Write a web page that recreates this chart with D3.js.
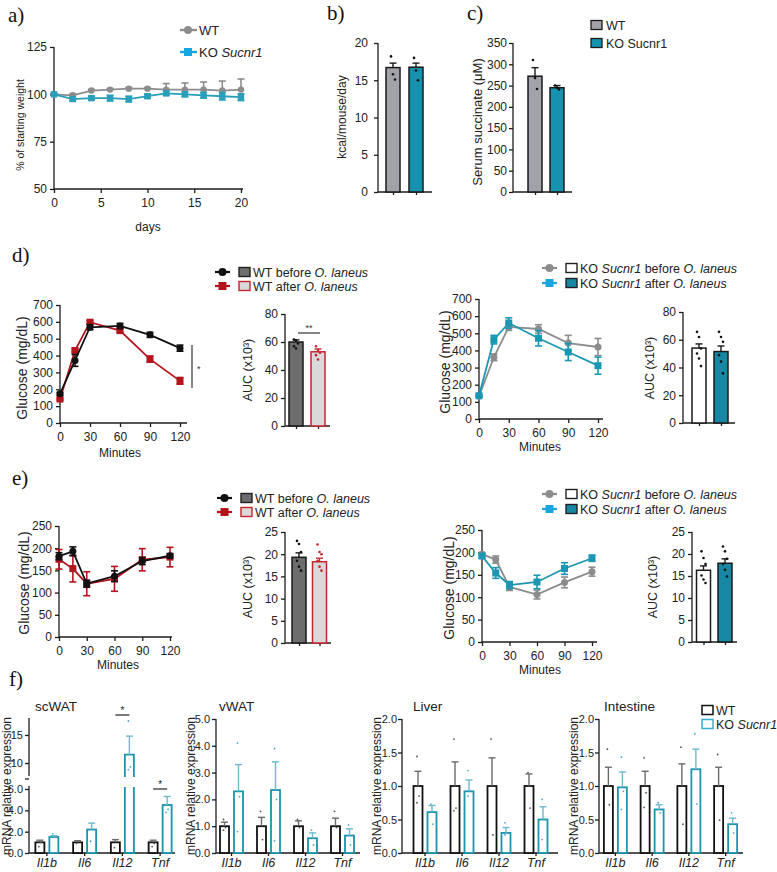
<!DOCTYPE html>
<html><head><meta charset="utf-8">
<script src="https://cdn.jsdelivr.net/npm/d3@7"></script>
<style>
body{margin:0;background:#fff}
svg text{font-family:"Liberation Sans",Arial,Helvetica,sans-serif;white-space:pre}
</style></head><body>
<svg id="c" width="777" height="872"></svg>
<script>
// ---------------- DATA ----------------
// panel a
const daysA = [0,2,4,6,8,10,12,14,16,18,20];
const wtWeight = [100,99.5,102,102.5,103,103,102.5,102.5,102.5,102,102.5];
const wtWeightErr = [0.4,0.6,0.6,0.6,0.6,0.6,3.2,3.5,4,5,5.6];
const koWeight = [100,97.5,98,98,97.5,99,100.5,100,99.5,99,98.5];
const koWeightErr = [0.5,1,1,1.5,1.5,1,1,1.2,1.5,2,1.8];
const legendA = ["WT","KO "];
// panel b
const groupsBC = ["WT","KO Sucnr1"];
const kcalMean = [16.7,16.75];
const kcalErr = [0.6,0.55];
const kcalDots = [[18.2,15.8,15.1],[18.0,16.3,15.0]];
// panel c
const succMean = [272,245];
const succErr = [20,5];
const succDots = [[310,268,242],[250,245,241]];
// panels d / e (time course)
const minutes = [0,15,30,60,90,120];
const gttWtBefore = [173,371,568,576,523,444];
const gttWtBeforeErr = [8,35,15,15,15,18];
const gttWtAfter = [142,430,598,548,379,250];
const gttWtAfterErr = [6,8,8,10,18,20];
const gttKoBefore = [132,360,537,525,443,420];
const gttKoBeforeErr = [6,20,20,25,45,50];
const gttKoAfter = [136,463,560,471,391,311];
const gttKoAfterErr = [6,25,30,45,50,50];
const itWtBefore = [182,193,120,137,171,183];
const itWtBeforeErr = [8,10,8,12,8,5];
const itWtAfter = [175,154,120,131,174,180];
const itWtAfterErr = [22,30,27,28,25,22];
const itKoBefore = [196,184,123,106,133,157];
const itKoBeforeErr = [4,8,8,10,12,10];
const itKoAfter = [192,154,127,134,164,187];
const itKoAfterErr = [5,12,8,15,13,7];
const aucGroups = ["before","after"];
const aucGttWt = [60,53], aucGttWtErr = [1.5,2];
const aucGttWtDots = [[61.8,61,59,57,55.4],[57,54.2,52.3,50.6,47.5]];
const aucGttKo = [54,51.5], aucGttKoErr = [3,4];
const aucGttKoDots = [[65.7,62,53.7,50.1,46.5,41],[65.7,62,58.5,48.9,44.2,35.8]];
const aucItWt = [19.3,18.3], aucItWtErr = [1,0.8];
const aucItWtDots = [[23,22.3,20.5,18.5,17.2,16.3],[22.2,20.5,20,18.5,17.2,16.3]];
const aucItKo = [16.3,17.9], aucItKoErr = [1,1];
const aucItKoDots = [[20.6,19.1,17.7,15.1,14.2,13.4],[21.7,20.6,18.9,17.7,16.4,14.9]];
// panel f
const genes = ["Il1b","Il6","Il12","Tnf"];
const scWT = [1,1,1,1], scWTErr = [0.2,0.15,0.25,0.2];
const scKO = [1.5,2.2,11.5,4.5], scKOErr = [0.12,0.6,3.3,0.8];
const scWTDots = [[0.6,1.0],[0.9],[0.5],[0.6,0.9]];
const scKODots = [[1.8,1.5],[1.1],[17.5,9.3,8.8],[3.8,4.1]];
const vWT = [1,1,1,1], vWTErr = [0.15,0.33,0.2,0.3];
const vKO = [2.3,2.35,0.55,0.65], vKOErr = [1.0,1.05,0.2,0.25];
const vWTDots = [[1.25,0.95,0.85],[1.55,0.5],[1.25,0.95],[1.55,0.95]];
const vKODots = [[4.1,2.1,0.8],[3.9,2.0,0.45],[0.85,0.3],[1.05,0.3]];
const lWT = [1,1,1,1], lWTErr = [0.22,0.36,0.42,0.18];
const lKO = [0.61,0.92,0.3,0.5], lKOErr = [0.1,0.17,0.08,0.19];
const lWTDots = [[1.44,0.85,0.75],[1.7,0.67,0.63],[1.7,0.27],[1.2,0.67]];
const lKODots = [[0.73,0.43],[1.23,0.93,0.85],[0.45,0.3,0.27],[0.8,0.5,0.2]];
const iWT = [1,1,1,1], iWTErr = [0.28,0.22,0.33,0.28];
const iKO = [0.98,0.65,1.25,0.43], iKOErr = [0.23,0.07,0.3,0.09];
const iWTDots = [[1.55,0.72],[1.42,0.9,0.68],[1.58,0.43],[1.47,0.49]];
const iKODots = [[1.43,0.92,0.65],[0.75,0.6],[1.78,0.73],[0.6,0.3]];

// ---------------- HELPERS ----------------
const svg = d3.select('#c');
const FONT = '"Liberation Sans",Arial,Helvetica,sans-serif';
const SERIF = '"Liberation Serif","Times New Roman",serif';
const AX = '#1c1c1c';
const TS = 12;

function styleAxis(gg, fs){
  gg.attr('font-family',FONT).attr('font-size',fs||TS);
  gg.selectAll('path,line').attr('stroke',AX).attr('stroke-width',1.3);
  gg.selectAll('text').attr('fill','#222');
}
function yAxis(scale, x, ticks, fmt, top, bottom, fs, pad){
  const a = d3.axisLeft(scale).tickValues(ticks).tickSize(4).tickPadding(pad==null?3:pad).tickSizeOuter(0);
  if (fmt) a.tickFormat(fmt);
  const gg = svg.append('g').attr('transform',`translate(${x},0)`).call(a);
  gg.select('.domain').attr('d',`M0,${bottom}V${top}`);
  styleAxis(gg, fs); return gg;
}
function xAxis(scale, y, ticks, left, right, fmt){
  const a = d3.axisBottom(scale).tickValues(ticks).tickSize(4).tickPadding(5).tickSizeOuter(0);
  if (fmt) a.tickFormat(fmt);
  const gg = svg.append('g').attr('transform',`translate(0,${y})`).call(a);
  gg.select('.domain').attr('d',`M${left},0H${right}`);
  styleAxis(gg); return gg;
}
function rotLabel(x, y, parts, size){
  const t = svg.append('text').attr('transform',`translate(${x},${y}) rotate(-90)`)
    .attr('text-anchor','middle').attr('dy','0.35em').attr('font-size',size||12).attr('fill','#222');
  parts.forEach(p => t.append('tspan').text(p[0]).attr('font-style',p[1]?'italic':null));
}
function rich(x, y, parts, size, anchor){
  const t = svg.append('text').attr('x',x).attr('y',y).attr('font-size',size||12).attr('fill','#222')
    .attr('text-anchor',anchor||'start');
  parts.forEach(p => t.append('tspan').text(p[0]).attr('font-style',p[1]?'italic':null));
  return t;
}
function panelLabel(x, y, s){
  svg.append('text').attr('x',x).attr('y',y).text(s)
    .attr('font-size',21).attr('fill','#111').style('font-family',SERIF);
}
function marker(g, type, cx, cy, color, size){
  if (type==='circle') g.append('circle').attr('cx',cx).attr('cy',cy).attr('r',size).attr('fill',color);
  else g.append('rect').attr('x',cx-size).attr('y',cy-size).attr('width',size*2).attr('height',size*2).attr('fill',color);
}
function lineChart(o){
  const x = d3.scaleLinear().domain(o.xd).range(o.xr);
  const y = d3.scaleLinear().domain(o.yd).range(o.yr);
  yAxis(y, o.xr[0], o.yt, null, o.yr[1], o.yr[0]);
  xAxis(x, o.yr[0], o.xt, o.xr[0], o.xEnd);
  const g = svg.append('g');
  o.series.forEach(s => {
    const pts = o.xs.map((xv,i)=>({x:xv,y:s.v[i],e:s.e[i]}));
    g.append('path').datum(pts).attr('d',d3.line().x(d=>x(d.x)).y(d=>y(d.y)))
      .attr('fill','none').attr('stroke',s.c).attr('stroke-width',s.lw||1.8);
    pts.forEach(d=>{
      const top = y(d.y+d.e), bot = s.up ? y(d.y) : y(d.y-d.e), cx = x(d.x), cw = o.cap||3.5;
      g.append('line').attr('x1',cx).attr('x2',cx).attr('y1',top).attr('y2',bot).attr('stroke',s.c).attr('stroke-width',1.6);
      g.append('line').attr('x1',cx-cw).attr('x2',cx+cw).attr('y1',top).attr('y2',top).attr('stroke',s.c).attr('stroke-width',1.6);
      if (!s.up) g.append('line').attr('x1',cx-cw).attr('x2',cx+cw).attr('y1',bot).attr('y2',bot).attr('stroke',s.c).attr('stroke-width',1.6);
      marker(g, s.m, cx, y(d.y), s.c, s.ms);
    });
  });
  return {x,y};
}
function barChart(o){
  const y = d3.scaleLinear().domain(o.yd).range(o.yr);
  const x = d3.scalePoint().domain(o.cats).range(o.centers);
  yAxis(y, o.ax, o.yt, null, o.yr[1], o.yr[0], TS, o.pad);
  const xa = xAxis(x, o.yr[0], o.cats, o.ax, o.xEnd, ()=>'');
  xa.selectAll('line').attr('y2',3);
  const g = svg.append('g');
  o.cats.forEach((c,i)=>{
    const cx = x(c), w = o.w, b = o.bars[i];
    g.append('rect').attr('x',cx-w/2).attr('y',y(o.v[i])).attr('width',w).attr('height',y(0)-y(o.v[i]))
      .attr('fill',b.fill).attr('stroke',b.stroke).attr('stroke-width',1.5);
    const et = y(o.v[i]+o.e[i]);
    g.append('line').attr('x1',cx).attr('x2',cx).attr('y1',et).attr('y2',y(o.v[i])).attr('stroke',b.stroke).attr('stroke-width',1.4);
    g.append('line').attr('x1',cx-3.5).attr('x2',cx+3.5).attr('y1',et).attr('y2',et).attr('stroke',b.stroke).attr('stroke-width',1.4);
    o.dots[i].forEach((d,j)=>{
      g.append('circle').attr('cx',cx + ((j%3)-1)*2).attr('cy',y(d)).attr('r',1.3).attr('fill',b.dot);
    });
  });
  return {x,y};
}
function legendRow(x, y, lineColor, m, rectFill, rectStroke, parts){
  svg.append('line').attr('x1',x).attr('x2',x+15).attr('y1',y).attr('y2',y).attr('stroke',lineColor).attr('stroke-width',2.2);
  marker(svg, m, x+7.5, y, lineColor, 4);
  svg.append('rect').attr('x',x+24).attr('y',y-4.5).attr('width',11).attr('height',9)
    .attr('fill',rectFill).attr('stroke',rectStroke).attr('stroke-width',1.4);
  rich(x+38, y+4.5, parts, 12.5);
}

// ---------------- COLORS ----------------
const GRAY = '#8c8c8c', TEAL = '#1b97b3', BRIGHT = '#17a6e0', RED = '#b3141e', BLACK = '#111';

// ---------------- PANEL a ----------------
panelLabel(8, 22, 'a)');
lineChart({xd:[0,20], xr:[54,241], xEnd:243, yd:[50,125], yr:[189,47], yt:[50,75,100,125], xt:[0,5,10,15,20],
  xs:daysA, cap:3.5, series:[
    {v:wtWeight, e:wtWeightErr, c:GRAY, m:'circle', ms:3.2, up:true},
    {v:koWeight, e:koWeightErr, c:'#2a9fba', m:'square', ms:3.2}
  ]});
rotLabel(20, 125, [['% of starting weight']], 10.5);
svg.append('text').attr('x',148).attr('y',231).attr('text-anchor','middle').attr('font-size',12).attr('fill','#222').text('days');
svg.append('line').attr('x1',180).attr('x2',197).attr('y1',30).attr('y2',30).attr('stroke',GRAY).attr('stroke-width',2.4);
marker(svg,'circle',188,30,GRAY,4);
rich(199, 34.5, [[legendA[0]]], 13);
svg.append('line').attr('x1',180).attr('x2',197).attr('y1',52).attr('y2',52).attr('stroke',BRIGHT).attr('stroke-width',2.4);
marker(svg,'square',188,52,BRIGHT,4);
rich(199, 56.5, [[legendA[1]],['Sucnr1',true]], 13);

// ---------------- PANEL b ----------------
panelLabel(327, 20, 'b)');
barChart({yd:[0,20], yr:[192,43], yt:[0,5,10,15,20], ax:378, xEnd:432, cats:groupsBC, centers:[393,416], w:14, pad:6,
  v:kcalMean, e:kcalErr, dots:kcalDots,
  bars:[{fill:'#a2a2aa',stroke:'#1a1a1a',dot:'#111'},{fill:'#1492ae',stroke:'#1a1a1a',dot:'#111'}]});
rotLabel(342, 117, [['kcal/mouse/day']], 12);

// ---------------- PANEL c ----------------
panelLabel(467, 20, 'c)');
barChart({yd:[0,350], yr:[192,43], yt:[0,50,100,150,200,250,300,350], ax:513, xEnd:572, cats:groupsBC, centers:[535,557], w:14, pad:2,
  v:succMean, e:succErr, dots:succDots,
  bars:[{fill:'#a2a2aa',stroke:'#1a1a1a',dot:'#111'},{fill:'#1492ae',stroke:'#1a1a1a',dot:'#111'}]});
rotLabel(477, 122, [['Serum succinate (μM)']], 13);
svg.append('rect').attr('x',591).attr('y',20.5).attr('width',11).attr('height',9).attr('fill','#a2a2aa').attr('stroke','#1a1a1a').attr('stroke-width',1.3);
rich(606, 29.5, [[groupsBC[0]]], 12.5);
svg.append('rect').attr('x',591).attr('y',38.5).attr('width',11).attr('height',9).attr('fill','#1492ae').attr('stroke','#1a1a1a').attr('stroke-width',1.3);
rich(606, 47.5, [[groupsBC[1]]], 12.5);

// ---------------- PANEL d ----------------
panelLabel(12, 262, 'd)');
legendRow(215, 272, BLACK, 'circle', '#6d6d6d', '#222', [['WT before '],['O. laneus',true]]);
legendRow(215, 286, RED, 'square', '#d9d9d9', '#c4262e', [['WT after '],['O. laneus',true]]);
lineChart({xd:[0,120], xr:[60,180], xEnd:187, yd:[0,700], yr:[423,305], yt:[0,100,200,300,400,500,600,700], xt:minutes.filter(m=>m%30===0),
  xs:minutes, series:[
    {v:gttWtAfter, e:gttWtAfterErr, c:RED, m:'square', ms:3.5},
    {v:gttWtBefore, e:gttWtBeforeErr, c:BLACK, m:'circle', ms:3.5}
  ]});
rotLabel(22, 368, [['Glucose (mg/dL)']], 14);
svg.append('text').attr('x',120).attr('y',457).attr('text-anchor','middle').attr('font-size',12).attr('fill','#222').text('Minutes');
svg.append('line').attr('x1',192).attr('x2',192).attr('y1',345).attr('y2',388).attr('stroke','#333').attr('stroke-width',1.2);
svg.append('text').attr('x',197).attr('y',372).attr('font-size',9).attr('fill','#333').text('*');
barChart({yd:[0,80], yr:[426,314], yt:[0,20,40,60,80], ax:285, xEnd:330, cats:aucGroups, centers:[296,318], w:14,
  v:aucGttWt, e:aucGttWtErr, dots:aucGttWtDots,
  bars:[{fill:'#6d6d6d',stroke:'#1a1a1a',dot:'#111'},{fill:'#d9d9d9',stroke:'#c4262e',dot:'#c4262e'}]});
rotLabel(248, 370, [['AUC (x10³)']], 12.5);
svg.append('line').attr('x1',298).attr('x2',320).attr('y1',333).attr('y2',333).attr('stroke','#333').attr('stroke-width',1.2);
svg.append('text').attr('x',309).attr('y',331).attr('text-anchor','middle').attr('font-size',9).attr('fill','#333').text('**');

legendRow(542, 268, GRAY, 'circle', '#fff', '#222', [['KO '],['Sucnr1',true],[' before '],['O. laneus',true]]);
legendRow(542, 283, BRIGHT, 'square', '#1788a3', '#222', [['KO '],['Sucnr1',true],[' after '],['O. laneus',true]]);
lineChart({xd:[0,120], xr:[479,598], xEnd:603, yd:[0,700], yr:[419,299], yt:[0,100,200,300,400,500,600,700], xt:minutes.filter(m=>m%30===0),
  xs:minutes, series:[
    {v:gttKoBefore, e:gttKoBeforeErr, c:GRAY, m:'circle', ms:3.5},
    {v:gttKoAfter, e:gttKoAfterErr, c:TEAL, m:'square', ms:3.5}
  ]});
rotLabel(445, 362, [['Glucose (mg/dL)']], 14);
svg.append('text').attr('x',540).attr('y',451).attr('text-anchor','middle').attr('font-size',12).attr('fill','#222').text('Minutes');
barChart({yd:[0,80], yr:[423,312], yt:[0,20,40,60,80], ax:683, xEnd:735, cats:aucGroups, centers:[699,721], w:14,
  v:aucGttKo, e:aucGttKoErr, dots:aucGttKoDots,
  bars:[{fill:'#fff',stroke:'#1a1a1a',dot:'#111'},{fill:'#1788a3',stroke:'#1a1a1a',dot:'#111'}]});
rotLabel(650, 368, [['AUC (x10³)']], 12.5);

// ---------------- PANEL e ----------------
panelLabel(12, 485, 'e)');
legendRow(217, 498, BLACK, 'circle', '#6d6d6d', '#222', [['WT before '],['O. laneus',true]]);
legendRow(217, 512, RED, 'square', '#d9d9d9', '#c4262e', [['WT after '],['O. laneus',true]]);
lineChart({xd:[0,120], xr:[59,170], xEnd:172, yd:[0,250], yr:[637,526], yt:[0,50,100,150,200,250], xt:minutes.filter(m=>m%30===0),
  xs:minutes, series:[
    {v:itWtAfter, e:itWtAfterErr, c:RED, m:'square', ms:3.5},
    {v:itWtBefore, e:itWtBeforeErr, c:BLACK, m:'circle', ms:3.5}
  ]});
rotLabel(24, 583, [['Glucose (mg/dL)']], 14);
svg.append('text').attr('x',118).attr('y',669).attr('text-anchor','middle').attr('font-size',12).attr('fill','#222').text('Minutes');
barChart({yd:[0,25], yr:[643,532], yt:[0,5,10,15,20,25], ax:285, xEnd:331, cats:aucGroups, centers:[299,319.5], w:14,
  v:aucItWt, e:aucItWtErr, dots:aucItWtDots,
  bars:[{fill:'#6d6d6d',stroke:'#1a1a1a',dot:'#111'},{fill:'#d9d9d9',stroke:'#c4262e',dot:'#c4262e'}]});
rotLabel(248, 587, [['AUC (x10³)']], 12.5);

legendRow(542, 494, GRAY, 'circle', '#fff', '#222', [['KO '],['Sucnr1',true],[' before '],['O. laneus',true]]);
legendRow(542, 509, BRIGHT, 'square', '#1788a3', '#222', [['KO '],['Sucnr1',true],[' after '],['O. laneus',true]]);
lineChart({xd:[0,120], xr:[482,592], xEnd:597, yd:[0,250], yr:[642,530], yt:[0,50,100,150,200,250], xt:minutes.filter(m=>m%30===0),
  xs:minutes, series:[
    {v:itKoBefore, e:itKoBeforeErr, c:GRAY, m:'circle', ms:3.5},
    {v:itKoAfter, e:itKoAfterErr, c:TEAL, m:'square', ms:3.5}
  ]});
rotLabel(449, 588, [['Glucose (mg/dL)']], 14);
svg.append('text').attr('x',540).attr('y',674).attr('text-anchor','middle').attr('font-size',12).attr('fill','#222').text('Minutes');
barChart({yd:[0,25], yr:[642,532], yt:[0,5,10,15,20,25], ax:692, xEnd:737, cats:aucGroups, centers:[703.5,725], w:14,
  v:aucItKo, e:aucItKoErr, dots:aucItKoDots,
  bars:[{fill:'#fff',stroke:'#1a1a1a',dot:'#111'},{fill:'#1788a3',stroke:'#1a1a1a',dot:'#111'}]});
rotLabel(653, 587, [['AUC (x10³)']], 12.5);

// ---------------- PANEL f ----------------
panelLabel(9, 686, 'f)');
const FT = '#1a93ad', FTL = '#6cb9cb', FWE = '#6a6a6a';
const FTS = 11;
function fPanel(o){
  const xb = d3.scaleBand().domain(genes).range(o.xr);
  const ys = o.ys;
  const xa = d3.axisBottom(xb).tickSize(3).tickPadding(2).tickSizeOuter(0);
  const gx = svg.append('g').attr('transform',`translate(0,853)`).call(xa);
  gx.select('.domain').attr('d',`M${o.ax},0H${o.xEnd}`);
  styleAxis(gx);
  gx.selectAll('text').attr('font-size',12.5).attr('font-style','italic');
  const g = svg.append('g');
  const w = 9;
  genes.forEach((gn,i)=>{
    const c = xb(gn) + xb.bandwidth()/2;
    [[o.wt,o.wtE,o.wtD,c-7,'#111',FWE,'#555'],[o.ko,o.koE,o.koD,c+7,FT,FTL,'#4ea9bf']].forEach(([v,e,dd,cx,sc,ec,dc])=>{
      const val = v[i];
      if (o.broken && val > o.breakLo) {
        const yb = ys(0), y1 = o.lowTopPx, y2 = o.upBotPx, yt = ys(val);
        g.append('path').attr('d',`M${cx-w/2},${y1}V${yb}H${cx+w/2}V${y1}`).attr('fill','#fff').attr('stroke',sc).attr('stroke-width',1.8);
        g.append('path').attr('d',`M${cx-w/2},${y2}V${yt}H${cx+w/2}V${y2}`).attr('fill','#fff').attr('stroke',sc).attr('stroke-width',1.8);
      } else {
        g.append('rect').attr('x',cx-w/2).attr('y',ys(val)).attr('width',w).attr('height',ys(0)-ys(val))
          .attr('fill','#fff').attr('stroke',sc).attr('stroke-width',1.8);
      }
      const et = ys(val+e[i]);
      g.append('line').attr('x1',cx).attr('x2',cx).attr('y1',et).attr('y2',ys(val)).attr('stroke',ec).attr('stroke-width',1.4);
      g.append('line').attr('x1',cx-3.5).attr('x2',cx+3.5).attr('y1',et).attr('y2',et).attr('stroke',ec).attr('stroke-width',1.4);
      dd[i].forEach((d,j)=>g.append('circle').attr('cx',cx+(j%2?1:-1)).attr('cy',ys(d)).attr('r',0.9).attr('fill',dc));
    });
  });
  svg.append('text').attr('x',o.titleX).attr('y',711).attr('font-size',13.5).attr('fill','#222').text(o.title);
  rotLabel(o.labX, 786, [['mRNA relative expression']], 12);
  return xb;
}
// scWAT (broken axis)
const scLow = d3.scaleLinear().domain([0,6]).range([853,789]);
const scHigh = d3.scaleLinear().domain([8,18]).range([774.2,718.2]);
const scY = v => v <= 7 ? scLow(v) : scHigh(v);
yAxis(scLow, 29, [0,2,4,6], null, 786, 853, FTS, 2);
yAxis(scHigh, 29, [10,15], null, 718, 776, FTS, 2);
svg.append('line').attr('x1',25).attr('x2',29).attr('y1',779).attr('y2',779).attr('stroke',AX).attr('stroke-width',1.3);
const scX = fPanel({title:'scWAT', titleX:35, labX:7, xr:[28,179], ax:29, xEnd:175, ys:scY, broken:true, breakLo:7,
  lowTopPx:787, upBotPx:777,
  wt:scWT, wtE:scWTErr, wtD:scWTDots, ko:scKO, koE:scKOErr, koD:scKODots});
[[2,715],[3,789]].forEach(([gi,yy])=>{
  const c = scX(genes[gi]) + scX.bandwidth()/2;
  svg.append('line').attr('x1',c-7).attr('x2',c+7).attr('y1',yy).attr('y2',yy).attr('stroke','#222').attr('stroke-width',1.2);
  svg.append('text').attr('x',c).attr('y',yy-1).attr('text-anchor','middle').attr('font-size',10).attr('fill','#222').text('*');
});
// vWAT
const vY = d3.scaleLinear().domain([0,5]).range([853,719]);
yAxis(vY, 216, [0,1,2,3,4,5], null, 719, 853, FTS, 2);
fPanel({title:'vWAT', titleX:219, labX:191, xr:[213,361], ax:216, xEnd:360, ys:vY,
  wt:vWT, wtE:vWTErr, wtD:vWTDots, ko:vKO, koE:vKOErr, koD:vKODots});
// Liver
const lY = d3.scaleLinear().domain([0,2]).range([853,719]);
yAxis(lY, 402, [0,0.5,1,1.5,2], d3.format('.1f'), 719, 853, FTS, 1);
fPanel({title:'Liver', titleX:413, labX:377, xr:[406.5,554.5], ax:402, xEnd:558, ys:lY,
  wt:lWT, wtE:lWTErr, wtD:lWTDots, ko:lKO, koE:lKOErr, koD:lKODots});
// Intestine
const iY = d3.scaleLinear().domain([0,2]).range([853,719]);
yAxis(iY, 599, [0,0.5,1,1.5,2], d3.format('.1f'), 719, 853, FTS, 1);
fPanel({title:'Intestine', titleX:604, labX:574, xr:[597,744], ax:599, xEnd:743, ys:iY,
  wt:iWT, wtE:iWTErr, wtD:iWTDots, ko:iKO, koE:iKOErr, koD:iKODots});
// legend f
svg.append('rect').attr('x',702).attr('y',705.5).attr('width',11).attr('height',9).attr('fill','#fff').attr('stroke','#111').attr('stroke-width',1.5);
rich(716, 714.5, [['WT']], 12.5);
svg.append('rect').attr('x',702).attr('y',719.5).attr('width',11).attr('height',9).attr('fill','#fff').attr('stroke','#3ab0d0').attr('stroke-width',1.5);
rich(716, 728.5, [['KO '],['Sucnr1',true]], 12.5);
</script>
</body></html>
